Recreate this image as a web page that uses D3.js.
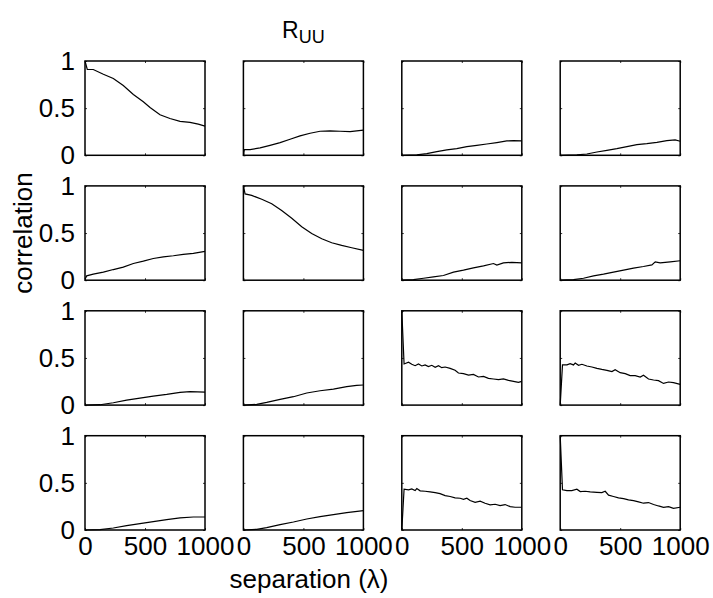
<!DOCTYPE html>
<html>
<head>
<meta charset="utf-8">
<script src="https://cdn.jsdelivr.net/npm/d3@7"></script>
<style>
  body { margin: 0; background: #fff; }
  text { font-family: "Liberation Sans", Arial, Helvetica, sans-serif; fill: #000; }
</style>
</head>
<body>
<div id="chart"></div>
<script>
// Set up SVG
var svgWidth = 713;
var svgHeight = 598;

// Tick values / labels
var xTicks = [0, 500, 1000];
var yTicks = [0, 0.5, 1];
var yTickLabels = ["0", "0.5", "1"];

// Curves, one per panel: [separation, correlation]
var p11 = [[0,1.0],[19,0.91],[69,0.91],[153,0.86],[236,0.815],[319,0.74],[403,0.645],[486,0.567],[542,0.507],[625,0.43],[708,0.39],[792,0.36],[875,0.35],[944,0.33],[1000,0.31]];
var p12 = [[0,0],[8,0.06],[56,0.06],[139,0.078],[222,0.106],[306,0.135],[389,0.17],[472,0.206],[556,0.234],[639,0.255],[722,0.259],[806,0.255],[889,0.252],[1000,0.266]];
var p13 = [[0,0],[125,0.004],[208,0.018],[292,0.039],[375,0.057],[458,0.071],[542,0.092],[625,0.106],[708,0.12],[792,0.135],[875,0.152],[931,0.156],[1000,0.152]];
var p14 = [[0,0],[139,0.004],[222,0.014],[306,0.035],[389,0.053],[472,0.071],[556,0.092],[639,0.113],[722,0.124],[806,0.138],[889,0.156],[958,0.163],[1000,0.149]];

var p21 = [[0,0.01],[14,0.046],[69,0.064],[153,0.085],[236,0.113],[319,0.138],[403,0.177],[486,0.202],[569,0.23],[653,0.248],[736,0.259],[819,0.273],[903,0.284],[1000,0.305]];
var p22 = [[0,1.0],[14,0.915],[69,0.9],[153,0.858],[236,0.81],[319,0.738],[403,0.656],[486,0.567],[569,0.496],[653,0.44],[736,0.397],[819,0.369],[903,0.344],[1000,0.316]];
var p23 = [[0,0],[97,0.007],[181,0.021],[264,0.035],[347,0.05],[431,0.085],[514,0.106],[597,0.131],[681,0.152],[764,0.177],[792,0.16],[847,0.184],[917,0.19],[1000,0.184]];
var p24 = [[0,0],[111,0.007],[194,0.021],[278,0.046],[361,0.064],[444,0.085],[528,0.106],[611,0.128],[694,0.145],[764,0.163],[792,0.195],[833,0.184],[917,0.195],[1000,0.206]];

var p31 = [[0,0],[125,0.004],[236,0.025],[347,0.053],[458,0.074],[569,0.096],[681,0.113],[792,0.135],[875,0.142],[1000,0.138]];
var p32 = [[0,0],[111,0.007],[194,0.028],[306,0.06],[417,0.089],[528,0.128],[639,0.152],[750,0.17],[861,0.195],[944,0.209],[1000,0.213]];
var p33 = [[0,1.0],[19,0.436],[56,0.454],[83,0.433],[111,0.418],[139,0.436],[167,0.415],[194,0.426],[222,0.408],[250,0.422],[278,0.4],[306,0.418],[333,0.397],[361,0.404],[403,0.39],[444,0.369],[472,0.34],[514,0.333],[556,0.319],[597,0.326],[639,0.298],[681,0.305],[722,0.284],[764,0.277],[806,0.27],[847,0.277],[889,0.262],[931,0.252],[972,0.241],[1000,0.252]];
var p34 = [[0,0],[19,0.426],[56,0.426],[83,0.44],[111,0.426],[125,0.447],[153,0.422],[181,0.433],[222,0.415],[264,0.404],[306,0.39],[347,0.379],[389,0.369],[431,0.355],[458,0.376],[500,0.344],[542,0.333],[583,0.312],[625,0.312],[667,0.298],[694,0.316],[736,0.277],[778,0.266],[819,0.259],[861,0.23],[903,0.245],[944,0.238],[1000,0.22]];

var p41 = [[0,0],[125,0.004],[236,0.021],[347,0.046],[458,0.067],[569,0.089],[681,0.11],[792,0.128],[903,0.138],[1000,0.138]];
var p42 = [[0,0],[111,0.007],[194,0.025],[306,0.057],[417,0.085],[528,0.117],[639,0.142],[750,0.163],[861,0.184],[1000,0.206]];
var p43 = [[0,0],[19,0.433],[56,0.426],[83,0.436],[111,0.418],[125,0.44],[153,0.415],[194,0.411],[236,0.404],[278,0.397],[319,0.386],[361,0.365],[403,0.355],[444,0.34],[486,0.337],[514,0.326],[542,0.337],[569,0.312],[611,0.294],[653,0.305],[694,0.284],[736,0.266],[778,0.273],[819,0.259],[861,0.27],[903,0.248],[944,0.241],[1000,0.241]];
var p44 = [[0,1.0],[19,0.426],[56,0.418],[97,0.418],[139,0.433],[167,0.408],[208,0.411],[250,0.404],[306,0.4],[347,0.397],[375,0.411],[403,0.369],[444,0.355],[486,0.34],[528,0.333],[569,0.319],[611,0.312],[653,0.298],[694,0.284],[736,0.291],[778,0.27],[819,0.255],[861,0.241],[903,0.248],[944,0.23],[1000,0.241]];

var panels = [
  [p11, p12, p13, p14],
  [p21, p22, p23, p24],
  [p31, p32, p33, p34],
  [p41, p42, p43, p44]
];

// Grid layout
var gridLeft = 85, gridTop = 61;
var panelW = 120, panelH = 94.3;
var stepX = 158.4, stepY = 124.9;
var fontSize = "26px";

var svg = d3.select("#chart")
  .append("svg")
  .attr("width", svgWidth)
  .attr("height", svgHeight);

var x = d3.scaleLinear().domain([0, 1000]).range([0, panelW]);
var y = d3.scaleLinear().domain([0, 1]).range([panelH, 0]);

var line = d3.line()
  .x(d => x(d[0]))
  .y(d => y(d[1]));

panels.forEach(function(row, r) {
  row.forEach(function(data, c) {
    var g = svg.append("g")
      .attr("transform", `translate(${gridLeft + c * stepX}, ${gridTop + r * stepY})`);

    // curve
    g.append("path")
      .datum(data)
      .attr("fill", "none")
      .attr("stroke", "#000")
      .attr("stroke-width", 1.2)
      .attr("d", line);

    // small inward ticks on all four sides
    var bottom = d3.axisBottom(x).tickValues(xTicks).tickSizeInner(-2).tickSizeOuter(0).tickPadding(7)
      .tickFormat(r === 3 ? d3.format("d") : "");
    var top = d3.axisTop(x).tickValues(xTicks).tickSizeInner(-2).tickSizeOuter(0).tickFormat("");
    var left = d3.axisLeft(y).tickValues(yTicks).tickSizeInner(-2).tickSizeOuter(0).tickPadding(10)
      .tickFormat(c === 0 ? ((d, i) => yTickLabels[i]) : "");
    var right = d3.axisRight(y).tickValues(yTicks).tickSizeInner(-2).tickSizeOuter(0).tickFormat("");

    [
      g.append("g").attr("transform", `translate(0,${panelH})`).call(bottom),
      g.append("g").call(top),
      g.append("g").call(left),
      g.append("g").attr("transform", `translate(${panelW},0)`).call(right)
    ].forEach(function(ax) {
      ax.select(".domain").remove();
      ax.selectAll("line").attr("stroke", "#000").attr("stroke-width", 0.8);
      ax.selectAll("text")
        .attr("fill", "#000")
        .style("font-size", fontSize)
        .style("font-family", "'Liberation Sans', Arial, sans-serif");
    });

    // box
    g.append("rect")
      .attr("width", panelW)
      .attr("height", panelH)
      .attr("fill", "none")
      .attr("stroke", "#000")
      .attr("stroke-width", 1.5);
  });
});

// Title R_UU
var title = svg.append("text")
  .attr("x", gridLeft + stepX + panelW / 2)
  .attr("y", 38)
  .attr("text-anchor", "middle")
  .style("font-size", "23px");
title.append("tspan").text("R");
title.append("tspan").attr("dy", 5).style("font-size", "18px").text("UU");

// y label, attached to second row
svg.append("text")
  .attr("transform", `translate(32, ${gridTop + stepY + panelH / 2}) rotate(-90)`)
  .attr("text-anchor", "middle")
  .style("font-size", fontSize)
  .text("correlation");

// x label
svg.append("text")
  .attr("x", 309)
  .attr("y", 588)
  .attr("text-anchor", "middle")
  .style("font-size", fontSize)
  .text("separation (λ)");
</script>
</body>
</html>
